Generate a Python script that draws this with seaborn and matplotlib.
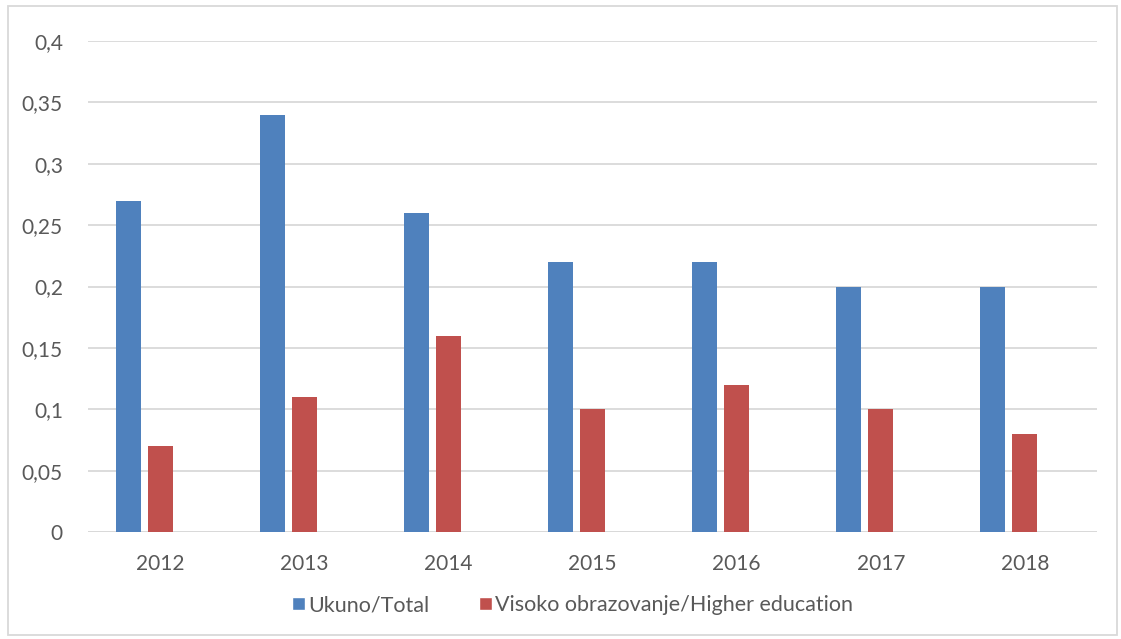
import matplotlib
matplotlib.use("Agg")
import matplotlib.pyplot as plt
import seaborn as sns
import pandas as pd
from matplotlib.patches import Patch, Rectangle

years = ["2012", "2013", "2014", "2015", "2016", "2017", "2018"]
total = [0.27, 0.34, 0.26, 0.22, 0.22, 0.20, 0.20]
higher = [0.07, 0.11, 0.16, 0.10, 0.12, 0.10, 0.08]
series_names = ["Ukuno/Total", "Visoko obrazovanje/Higher education"]
yticks = [0, 0.05, 0.1, 0.15, 0.2, 0.25, 0.3, 0.35, 0.4]
ytick_labels = ["0", "0,05", "0,1", "0,15", "0,2", "0,25", "0,3", "0,35", "0,4"]

colors = ["#4F81BD", "#C0504D", "#FFFFFF"]
dummy = "_empty"

df = pd.concat([
    pd.DataFrame({"year": years, "value": total, "series": series_names[0]}),
    pd.DataFrame({"year": years, "value": higher, "series": series_names[1]}),
    pd.DataFrame({"year": years, "value": [0.0] * len(years), "series": dummy}),
])

sns.set_theme(style="white")
plt.rcParams["font.family"] = ["Lato", "DejaVu Sans"]

fig = plt.figure(figsize=(11.21, 6.39), dpi=100)
ax = fig.add_axes([0.0785, 0.1674, 0.9001, 0.7684])

sns.barplot(data=df, x="year", y="value", hue="series",
            hue_order=series_names + [dummy], palette=colors, saturation=1,
            width=0.667, gap=0.22, linewidth=0, errorbar=None,
            legend=False, ax=ax)

ax.set_ylim(0, 0.4)
ax.set_xlim(-0.5, len(years) - 0.5)
ax.set_yticks(yticks)
ax.set_yticklabels(ytick_labels)
ax.yaxis.grid(True, color="#D9D9D9", linewidth=1.3)
ax.set_axisbelow(True)
for s in ax.spines.values():
    s.set_visible(False)
ax.tick_params(axis="both", length=0, colors="#595959", labelsize=15)
ax.tick_params(axis="y", pad=18)
ax.tick_params(axis="x", pad=16)
ax.set_xlabel("")
ax.set_ylabel("")
ax.axhline(0, color="#D9D9D9", linewidth=1.3, zorder=0.5)

handles = [Patch(facecolor=colors[0]), Patch(facecolor=colors[1])]
fig.legend(handles, series_names, loc="center", bbox_to_anchor=(0.511, 0.053),
           ncol=2, frameon=False, fontsize=15.5, labelcolor="#595959",
           handlelength=0.6, handleheight=0.6, handletextpad=0.15,
           columnspacing=2.3)

fig.patches.append(Rectangle((0.007, 0.007), 0.989, 0.983, transform=fig.transFigure,
                             fill=False, edgecolor="#D9D9D9", linewidth=1.3))

fig.savefig("out.png", dpi=100)
